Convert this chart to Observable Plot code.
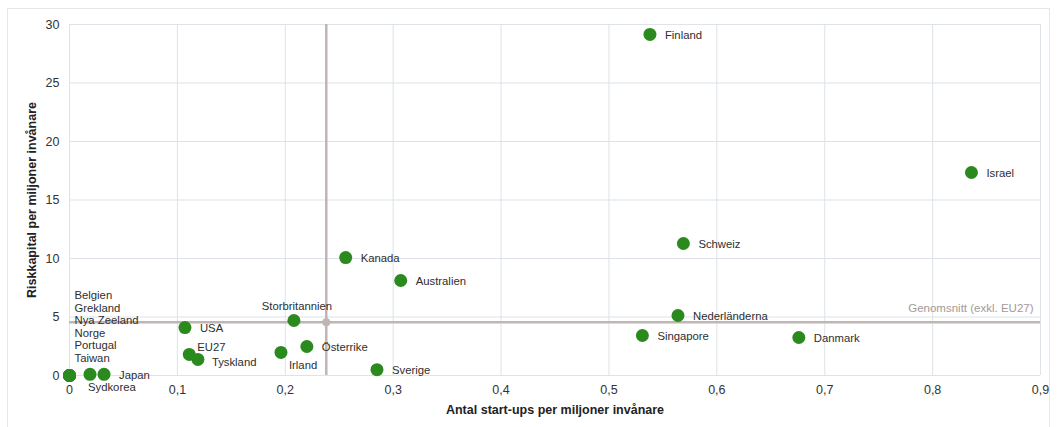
<!DOCTYPE html>
<html>
<head>
<meta charset="utf-8">
<script src="https://cdn.jsdelivr.net/npm/d3@7"></script>
<script src="https://cdn.jsdelivr.net/npm/@observablehq/plot@0.6"></script>
<style>
  html, body { margin: 0; padding: 0; background: #fff; }
  #wrap { position: relative; width: 1059px; height: 427px; overflow: hidden; }
  #box { position: absolute; left: 7px; top: 8px; width: 1043px; height: 440px; border: 1px solid #e4e7ea; box-sizing: border-box; }
  #chart { position: absolute; left: 0; top: 0; }
  [aria-label="x-axis label"], [aria-label="y-axis label"] { font-weight: bold; fill: #222; }
</style>
</head>
<body>
<div id="wrap"><div id="box"></div><div id="chart"></div></div>
<script>
// Data
const countries = ["Finland","Israel","Schweiz","Kanada","Australien","Storbritannien","USA","Nederländerna","Singapore","Danmark","EU27","Tyskland","Irland","Österrike","Sverige","Japan","Sydkorea","Belgien","Grekland","Nya Zeeland","Norge","Portugal","Taiwan"];
const startups  = [0.538,0.836,0.569,0.256,0.307,0.208,0.107,0.564,0.531,0.676,0.111,0.119,0.196,0.220,0.285,0.032,0.019,0,0,0,0,0,0];
const riskkapital = [29.15,17.35,11.28,10.08,8.12,4.7,4.1,5.13,3.42,3.25,1.8,1.37,1.97,2.48,0.5,0.1,0.1,0,0,0,0,0,0];
const avgStartups = 0.238;
const avgRiskkapital = 4.55;
const avgLabel = "Genomsnitt (exkl. EU27)";
const xTicks = [0,0.1,0.2,0.3,0.4,0.5,0.6,0.7,0.8,0.9];
const yTicks = [0,5,10,15,20,25,30];
const xLabel = "Antal start-ups per miljoner invånare";
const yLabel = "Riskkapital per miljoner invånare";

// Label placement (styling, by name)
const placement = {
  "Storbritannien": "above",
  "Irland": "belowRight",
  "Sydkorea": "below",
  "EU27": "upRight",
  "Tyskland": "downRight"
};
const zeroGroup = ["Belgien","Grekland","Nya Zeeland","Norge","Portugal","Taiwan"];

const data = countries.map((c, i) => ({country: c, x: startups[i], y: riskkapital[i]}));
const labeled = data.filter(d => !zeroGroup.includes(d.country));
const byPlace = p => labeled.filter(d => (placement[d.country] || "right") === p);
const zeroLabel = [{x: 0, y: 0, text: zeroGroup.join("\n")}];

const fmt = d => String(d).replace(".", ",");
const green = "#2b8a1d";
const avgColor = "#c0b5b2";
const txt = {fontSize: 11.3, fill: "#2e2e2e"};

const chart = Plot.plot({
  width: 1059,
  height: 427,
  marginLeft: 69,
  marginRight: 19,
  marginTop: 24,
  marginBottom: 52,
  style: {fontFamily: "'Liberation Sans', Arial, sans-serif", fontSize: "12px", color: "#333", background: "transparent"},
  x: {domain: [0, 0.9], ticks: xTicks, tickFormat: fmt, label: xLabel},
  y: {domain: [0, 30], ticks: yTicks, tickFormat: fmt, label: yLabel},
  marks: [
    Plot.gridX(xTicks, {stroke: "#dde3e8", strokeOpacity: 1, strokeWidth: 1}),
    Plot.gridY(yTicks, {stroke: "#dde3e8", strokeOpacity: 1, strokeWidth: 1}),
    Plot.axisX(xTicks, {tickSize: 0, tickPadding: 10, tickFormat: fmt, fontSize: 12.5, label: xLabel, labelAnchor: "center", labelArrow: "none", labelOffset: 38}),
    Plot.axisY(yTicks, {tickSize: 0, tickPadding: 10, tickFormat: fmt, fontSize: 12.5, label: yLabel, labelAnchor: "center", labelArrow: "none", labelOffset: 42}),
    Plot.ruleX([avgStartups], {stroke: avgColor, strokeWidth: 2.5}),
    Plot.ruleY([avgRiskkapital], {stroke: avgColor, strokeWidth: 2.5}),
    Plot.dot([{x: avgStartups, y: avgRiskkapital}], {x: "x", y: "y", r: 4, fill: avgColor}),
    Plot.text([avgLabel], {frameAnchor: "right", y: avgRiskkapital, dx: -7, dy: -14, textAnchor: "end", fontSize: 11.5, fill: "#a39a98"}),
    Plot.dot(data, {x: "x", y: "y", r: 6.5, fill: green}),
    Plot.text(byPlace("right"), {x: "x", y: "y", text: "country", textAnchor: "start", dx: 15, dy: 1, ...txt}),
    Plot.text(byPlace("above"), {x: "x", y: "y", text: "country", textAnchor: "middle", dx: 3, dy: -14, ...txt}),
    Plot.text(byPlace("belowRight"), {x: "x", y: "y", text: "country", textAnchor: "start", dx: 8, dy: 13, ...txt}),
    Plot.text(byPlace("below"), {x: "x", y: "y", text: "country", textAnchor: "start", dx: -2, dy: 13, ...txt}),
    Plot.text(byPlace("upRight"), {x: "x", y: "y", text: "country", textAnchor: "start", dx: 8, dy: -7, ...txt}),
    Plot.text(byPlace("downRight"), {x: "x", y: "y", text: "country", textAnchor: "start", dx: 14, dy: 3, ...txt}),
    Plot.text(zeroLabel, {x: "x", y: "y", text: "text", textAnchor: "start", lineAnchor: "bottom", lineHeight: 1.1, dx: 5, dy: -14, ...txt})
  ]
});
document.getElementById("chart").appendChild(chart);
</script>
</body>
</html>
